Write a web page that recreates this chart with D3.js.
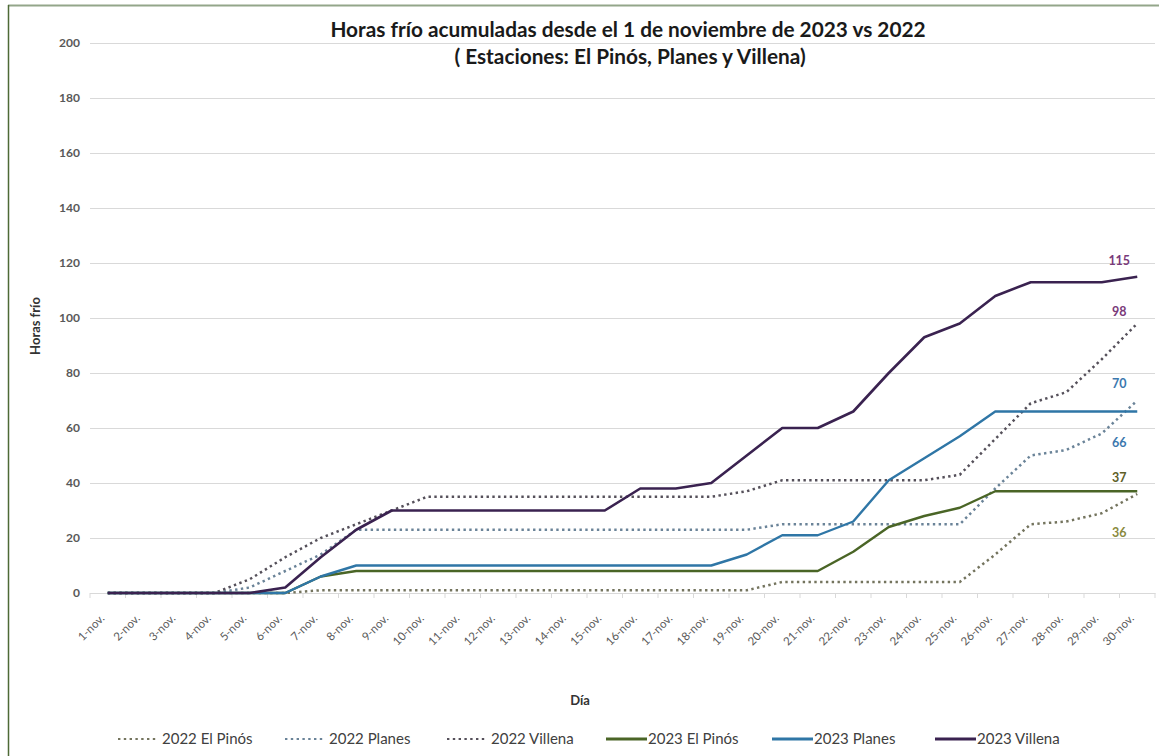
<!DOCTYPE html>
<html>
<head>
<meta charset="utf-8">
<script src="https://cdn.jsdelivr.net/npm/d3@7"></script>
<style>
  html, body { margin: 0; padding: 0; background: #fff; }
  svg { display: block; }
  text { font-family: Lato, "Open Sans", sans-serif; }
</style>
</head>
<body>
<svg id="chart" width="1159" height="756"></svg>
<script>
// ---- data ----
const days = ["1-nov.","2-nov.","3-nov.","4-nov.","5-nov.","6-nov.","7-nov.","8-nov.","9-nov.","10-nov.",
  "11-nov.","12-nov.","13-nov.","14-nov.","15-nov.","16-nov.","17-nov.","18-nov.","19-nov.","20-nov.",
  "21-nov.","22-nov.","23-nov.","24-nov.","25-nov.","26-nov.","27-nov.","28-nov.","29-nov.","30-nov."];
const seriesNames = ["2022 El Pinós","2022 Planes","2022 Villena","2023 El Pinós","2023 Planes","2023 Villena"];
const pinos2022   = [0,0,0,0,0,0,1,1,1,1,1,1,1,1,1,1,1,1,1,4,4,4,4,4,4,14,25,26,29,36];
const planes2022  = [0,0,0,0,2,8,14,23,23,23,23,23,23,23,23,23,23,23,23,25,25,25,25,25,25,38,50,52,58,70];
const villena2022 = [0,0,0,0,5,13,20,25,30,35,35,35,35,35,35,35,35,35,37,41,41,41,41,41,43,56,69,73,85,98];
const pinos2023   = [0,0,0,0,0,0,6,8,8,8,8,8,8,8,8,8,8,8,8,8,8,15,24,28,31,37,37,37,37,37];
const planes2023  = [0,0,0,0,0,0,6,10,10,10,10,10,10,10,10,10,10,10,14,21,21,26,41,49,57,66,66,66,66,66];
const villena2023 = [0,0,0,0,0,2,13,23,30,30,30,30,30,30,30,38,38,40,50,60,60,66,80,93,98,108,113,113,113,115];
const yTicks = [0,20,40,60,80,100,120,140,160,180,200];
const titleLines = ["Horas frío acumuladas desde el 1 de noviembre de 2023 vs 2022", "( Estaciones: El Pinós, Planes y Villena)"];

// ---- styles ----
const seriesValues = [pinos2022, planes2022, villena2022, pinos2023, planes2023, villena2023];
const DOT = "2.4 3.4";
const styles = [
  {color:"#74745e", dash:DOT, width:2.5, label:"#8a8a40", labelDy:39},
  {color:"#6a8398", dash:DOT, width:2.5, label:"#3b78ae", labelDy:-17},
  {color:"#55505a", dash:DOT, width:2.5, label:"#7a3a7a", labelDy:-12},
  {color:"#4a6526", dash:null, width:2.4, label:"#5e5e28", labelDy:-14},
  {color:"#2f76a6", dash:null, width:2.4, label:"#3b78ae", labelDy:31},
  {color:"#3a2250", dash:null, width:2.6, label:"#7a3a7a", labelDy:-16}
];

const svg = d3.select("#chart");
const W = 1159, H = 756;
const plot = {left: 90, right: 1155, top: 43, bottom: 593};
const FONT = 'Lato, "Open Sans", sans-serif';

// frame
svg.append("line").attr("x1",8).attr("x2",W).attr("y1",5.5).attr("y2",5.5)
  .attr("stroke","#93a68a").attr("stroke-width",2);
svg.append("line").attr("x1",8.5).attr("x2",8.5).attr("y1",5).attr("y2",H)
  .attr("stroke","#4e6a36").attr("stroke-width",1.5);

const x = d3.scalePoint().domain(days).range([plot.left, plot.right]).padding(0.5);
const y = d3.scaleLinear().domain([0,200]).range([plot.bottom, plot.top]);

// gridlines + y axis
const yAxis = d3.axisLeft(y).tickValues(yTicks).tickSize(-(plot.right - plot.left)).tickPadding(10);
const gy = svg.append("g").attr("transform",`translate(${plot.left},0)`).call(yAxis);
gy.select(".domain").remove();
gy.selectAll(".tick line").attr("stroke","#d9d9d9").attr("stroke-width",1.2);
gy.selectAll(".tick text").attr("fill","#595959").attr("font-size","12px").attr("font-weight","bold")
  .style("font-family",FONT);

// x axis
const xAxis = d3.axisBottom(x).tickSize(0).tickPadding(0);
const gx = svg.append("g").attr("transform",`translate(0,${plot.bottom})`).call(xAxis);
gx.select(".domain").attr("stroke","#d9d9d9").attr("stroke-width",1.2);
gx.selectAll(".tick text")
  .attr("fill","#595959").attr("font-size","11.5px")
  .style("font-family",FONT)
  .attr("text-anchor","end")
  .attr("dy",0).attr("y",0)
  .attr("transform","translate(-3,26) rotate(-45)");
// boundary tick marks
const step = x.step();
gx.selectAll(".btick").data(days.concat(["end"])).enter().append("line")
  .attr("class","btick")
  .attr("x1",(d,i)=>plot.left + i*step).attr("x2",(d,i)=>plot.left + i*step)
  .attr("y1",0).attr("y2",5).attr("stroke","#d9d9d9").attr("stroke-width",1);

// lines
const line = d3.line().x((d,i)=>x(days[i])).y(d=>y(d));
seriesValues.forEach((vals, k) => {
  const s = styles[k];
  svg.append("path").datum(vals)
    .attr("fill","none").attr("stroke",s.color).attr("stroke-width",s.width)
    .attr("stroke-linecap","butt").attr("stroke-linejoin","round")
    .attr("stroke-dasharray",s.dash)
    .attr("d",line);
});

// end labels
seriesValues.forEach((vals, k) => {
  const s = styles[k];
  const last = vals[vals.length-1];
  svg.append("text")
    .attr("x", x(days[days.length-1]) - 18)
    .attr("y", y(last) + s.labelDy)
    .attr("dy","0.35em")
    .attr("text-anchor","middle")
    .attr("font-size","12.5px").attr("font-weight","bold")
    .attr("fill", s.label)
    .text(last);
});

// title
svg.append("text").attr("x",628).attr("y",37).attr("text-anchor","middle")
  .attr("font-size","20.8px").attr("font-weight","bold").attr("fill","#1a1a1a").text(titleLines[0]);
svg.append("text").attr("x",630).attr("y",64).attr("text-anchor","middle")
  .attr("font-size","20.8px").attr("font-weight","bold").attr("fill","#1a1a1a").text(titleLines[1]);

// axis titles
svg.append("text").attr("transform","translate(40,326) rotate(-90)").attr("text-anchor","middle")
  .attr("font-size","13px").attr("font-weight","bold").attr("fill","#333").text("Horas frío");
svg.append("text").attr("x",580).attr("y",705).attr("text-anchor","middle")
  .attr("font-size","13px").attr("font-weight","bold").attr("fill","#333").text("Día");

// legend
const legendX = [118, 285, 447, 606, 772, 935];
const lg = svg.append("g");
seriesNames.forEach((name,k)=>{
  const s = styles[k];
  const g = lg.append("g").attr("transform",`translate(${legendX[k]},739)`);
  g.append("line").attr("x1",0).attr("x2",s.dash?38:41).attr("y1",0).attr("y2",0)
    .attr("stroke",s.color).attr("stroke-width",s.dash?2.2:2.8)
    .attr("stroke-dasharray",s.dash);
  g.append("text").attr("x", s.dash ? 44 : 42).attr("y",0).attr("dy","0.35em")
    .attr("font-size","15px").attr("fill","#404040").text(name);
});
</script>
</body>
</html>
